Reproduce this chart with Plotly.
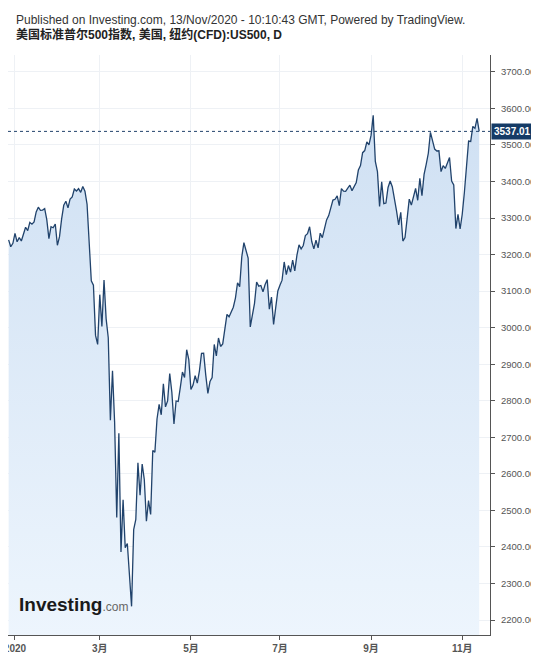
import pandas as pd
import plotly.graph_objects as go

# ---- data (daily closes, US500 CFD) ----
dec19 = [3240.02, 3221.29, 3230.78]
jan = [3257.85, 3234.85, 3246.28, 3237.18, 3253.05, 3274.70, 3265.35, 3288.13, 3283.15, 3289.29,
       3316.81, 3329.62, 3320.79, 3321.75, 3325.54, 3295.47, 3243.63, 3276.24, 3273.40, 3283.66, 3225.52]
feb = [3248.92, 3297.59, 3334.69, 3345.78, 3327.71, 3352.09, 3357.75, 3379.45, 3373.94, 3380.16,
       3370.29, 3386.15, 3373.23, 3337.75, 3225.89, 3128.21, 3116.39, 2978.76, 2954.22]
mar = [3090.23, 3003.37, 3130.12, 3023.94, 2972.37, 2746.56, 2882.23, 2741.38, 2480.64, 2711.02,
       2386.13, 2529.19, 2398.10, 2409.39, 2304.92, 2237.40, 2447.33, 2475.56, 2630.07, 2541.47,
       2626.65, 2584.59]
apr = [2470.50, 2526.90, 2488.65, 2663.68, 2659.41, 2749.98, 2789.82, 2761.63, 2846.06, 2783.36,
       2799.55, 2874.56, 2823.16, 2736.56, 2799.31, 2797.80, 2836.74, 2878.48, 2863.39, 2939.51, 2912.43]
may = [2830.71, 2842.74, 2868.44, 2848.42, 2881.19, 2929.80, 2930.32, 2870.12, 2820.00, 2852.50,
       2863.70, 2953.91, 2922.94, 2971.61, 2948.51, 2955.45, 2991.77, 3036.13, 3029.73, 3044.31]
jun = [3055.73, 3080.82, 3122.87, 3112.35, 3193.93, 3232.39, 3207.18, 3190.14, 3002.10, 3041.31,
       3066.59, 3124.74, 3113.49, 3115.34, 3097.74, 3117.86, 3131.29, 3050.33, 3083.76, 3009.05,
       3053.24, 3100.29]
jul = [3115.86, 3130.01, 3179.72, 3145.32, 3169.94, 3152.05, 3185.04, 3155.22, 3197.52, 3226.56,
       3215.57, 3224.73, 3251.84, 3257.30, 3276.02, 3235.66, 3215.63, 3239.41, 3218.44, 3258.44,
       3246.22, 3271.12]
aug = [3294.61, 3306.51, 3327.77, 3349.16, 3351.28, 3360.47, 3333.69, 3380.35, 3373.43, 3372.85,
       3381.99, 3389.78, 3374.85, 3385.51, 3397.16, 3431.28, 3443.62, 3478.73, 3484.55, 3508.01, 3500.31]
sep = [3526.65, 3580.84, 3455.06, 3426.96, 3331.84, 3398.96, 3339.19, 3340.97, 3383.54, 3401.20,
       3385.49, 3357.01, 3319.47, 3281.06, 3315.57, 3236.92, 3246.59, 3298.46, 3351.60, 3335.47, 3363.00]
octo = [3380.80, 3348.42, 3408.60, 3360.97, 3419.44, 3446.83, 3477.14, 3534.22, 3511.93, 3488.67,
        3483.34, 3483.81, 3426.92, 3443.12, 3435.56, 3453.49, 3465.39, 3400.97, 3390.68, 3271.03,
        3310.11, 3269.96]
nov = [3310.24, 3369.16, 3443.44, 3510.45, 3509.44, 3550.50, 3545.53, 3572.66, 3537.01]

holidays = ["2020-01-01", "2020-01-20", "2020-02-17", "2020-04-10",
            "2020-05-25", "2020-07-03", "2020-09-07"]
tick_dates = ["2020-01-02", "2020-03-02", "2020-05-01", "2020-07-01", "2020-09-01", "2020-11-02"]
tick_labels = ["2020", "3月", "5月", "7月", "9月", "11月"]
last_price = 3537.01

values = dec19 + jan + feb + mar + apr + may + jun + jul + aug + sep + octo + nov
days = [d.strftime("%Y-%m-%d") for d in pd.bdate_range("2019-12-27", "2020-11-12")
        if d.strftime("%Y-%m-%d") not in holidays]
assert len(days) == len(values)

LINE = "#21436c"
FONT = "Liberation Sans, Arial, Noto Sans CJK SC, sans-serif"
Y0, Y1 = 2159, 3746

fig = go.Figure()
fig.add_trace(go.Scatter(
    x=days, y=values, mode="lines",
    line=dict(color=LINE, width=1.3),
    fill="tozeroy",
    fillgradient=dict(type="vertical", start=Y0, stop=Y1,
                      colorscale=[[0, "rgb(237,245,253)"], [1, "rgb(204,222,242)"]]),
    hoverinfo="skip", showlegend=False,
))

fig.add_shape(type="line", xref="paper", yref="y", x0=0, x1=1, y0=last_price, y1=last_price,
              line=dict(color=LINE, width=1, dash="dot"))

fig.add_annotation(xref="paper", yref="y", x=1.0, y=last_price, xanchor="left", yanchor="middle",
                   text="<b>%.2f</b>" % last_price, showarrow=False,
                   font=dict(family=FONT, size=10, color="white"),
                   bgcolor="#153b66", borderpad=2, xshift=1)

fig.add_annotation(xref="paper", yref="paper", x=0.019, y=0.052, xanchor="left", yanchor="middle",
                   text="<b>Investing</b><span style='font-size:12px;color:#666'>.com</span>",
                   showarrow=False, font=dict(family=FONT, size=19, color="#1a1a1a"))

fig.add_annotation(xref="paper", yref="paper", x=0.012, y=1.0, xanchor="left", yanchor="middle",
                   yshift=35.5, text="Published on Investing.com, 13/Nov/2020 - 10:10:43 GMT, Powered by TradingView.",
                   showarrow=False, font=dict(family=FONT, size=12, color="#333"))
fig.add_annotation(xref="paper", yref="paper", x=0.012, y=1.0, xanchor="left", yanchor="middle",
                   yshift=20.5, text="<b>美国标准普尔500指数, 美国, 纽约(CFD):US500, D</b>",
                   showarrow=False, font=dict(family=FONT, size=12, color="#222"))

# the page body adds an 8px offset, so the figure is sized to fit the 539x662 window
fig.update_layout(
    width=531, height=654, template="none",
    paper_bgcolor="white", plot_bgcolor="white",
    margin=dict(l=0, r=49, t=47, b=27, autoexpand=False),
    font=dict(family=FONT),
    xaxis=dict(type="category", range=[-0.3, 227.1], tickmode="array",
               tickvals=tick_dates, ticktext=["<b>%s</b>" % t for t in tick_labels],
               showgrid=True, gridcolor="#eef1f5", gridwidth=1, zeroline=False,
               showline=True, linecolor="#555", linewidth=1, mirror=False,
               ticks="outside", ticklen=4, tickcolor="#555",
               tickfont=dict(family=FONT, size=10, color="#555"), automargin=False),
    yaxis=dict(side="right", range=[Y0, Y1], tick0=2200, dtick=100, tickformat=".2f",
               showgrid=True, gridcolor="#eef1f5", gridwidth=1, zeroline=False,
               showline=True, linecolor="#555", linewidth=1,
               ticks="outside", ticklen=4, tickcolor="#555", ticklabelstandoff=4,
               tickfont=dict(family=FONT, size=9.5, color="#555"), automargin=False),
)

fig.write_html("out.html")
